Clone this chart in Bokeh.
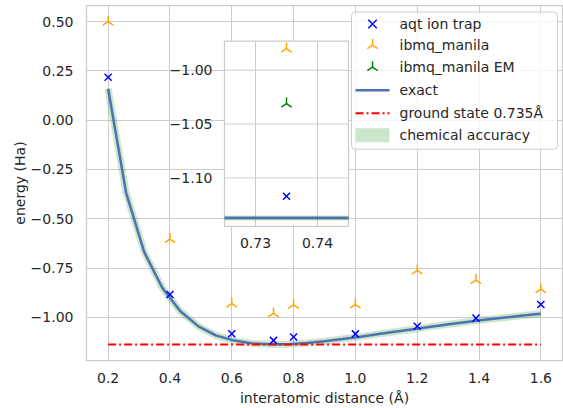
import numpy as np
from bokeh.plotting import figure
from bokeh.models import Range1d, FixedTicker, CustomJSTickFormatter
from bokeh.core.properties import value
from bokeh.embed import file_html
from bokeh.resources import INLINE

# ---------------- data ----------------
dist_hw = [0.2, 0.4, 0.6, 0.735, 0.8, 1.0, 1.2, 1.39, 1.6]
e_aqt = [0.218, -0.884, -1.083, -1.117, -1.100, -1.084, -1.045, -1.004, -0.935]
e_ibmq = [0.500, -0.603, -0.931, -0.980, -0.937, -0.935, -0.762, -0.811, -0.857]
dist_em = [0.735]
e_em = [-1.031]

dist_exact = [0.2, 0.258, 0.317, 0.375, 0.433, 0.492, 0.55, 0.608, 0.667,
              0.725, 0.783, 0.842, 0.9, 0.958, 1.017, 1.075, 1.133, 1.192,
              1.25, 1.308, 1.367, 1.425, 1.483, 1.542, 1.6]
e_exact = [0.160, -0.367, -0.670, -0.850, -0.968, -1.046, -1.093, -1.118,
           -1.133, -1.137, -1.136, -1.130, -1.121, -1.110, -1.098, -1.085,
           -1.072, -1.059, -1.046, -1.034, -1.022, -1.011, -1.001, -0.991,
           -0.982]
gs_dist = [0.2, 1.6]
gs_energy = [-1.1373, -1.1373]
chem_acc = 0.0016

inset_dist_exact = [0.725, 0.735, 0.745]
inset_e_exact = [-1.1372, -1.1373, -1.1373]

x_ticks = [0.2, 0.4, 0.6, 0.8, 1.0, 1.2, 1.4, 1.6]
y_ticks = [-1.0, -0.75, -0.5, -0.25, 0.0, 0.25, 0.5]
inset_x_ticks = [0.73, 0.74]
inset_x_labels = ["0.73", "0.74"]
inset_y_ticks = [-1.10, -1.05, -1.00]
inset_y_labels = ["\u22121.10", "\u22121.05", "\u22121.00"]

legend_labels = ["aqt ion trap", "ibmq_manila", "ibmq_manila EM", "exact",
                 "ground state 0.735Å", "chemical accuracy"]

# ---------------- styling constants ----------------
FONT = "DejaVu Sans"
TXT = "#262626"
GRID = "#cccccc"
BAND = "green"
EXACT = "#4c72b0"

p = figure(width=563, height=408, output_backend="svg", toolbar_location=None,
           x_range=Range1d(0.13, 1.67), y_range=Range1d(-1.219, 0.582),
           min_border_left=86, min_border_right=1, min_border_top=5,
           min_border_bottom=48)
p.background_fill_color = "white"
p.border_fill_color = "white"
p.outline_line_color = GRID
p.outline_line_width = 1.25

for ax in (p.xaxis[0], p.yaxis[0]):
    ax.major_tick_line_color = None
    ax.minor_tick_line_color = None
    ax.major_tick_out = 0
    ax.major_tick_in = 0
    ax.minor_tick_out = 0
    ax.minor_tick_in = 0
    ax.axis_line_color = None
    ax.major_label_text_font = FONT
    ax.major_label_text_font_size = "14px"
    ax.major_label_text_color = TXT
    ax.axis_label_text_font = FONT
    ax.axis_label_text_font_size = "14px"
    ax.axis_label_text_font_style = "normal"
    ax.axis_label_text_color = TXT

p.xaxis.ticker = FixedTicker(ticks=x_ticks)
p.yaxis.ticker = FixedTicker(ticks=y_ticks)
p.xaxis.formatter = CustomJSTickFormatter(code="return tick.toFixed(1);")
p.yaxis.formatter = CustomJSTickFormatter(
    code="return (tick < -1e-9 ? '\\u2212' : '') + Math.abs(tick).toFixed(2);")
p.xaxis.axis_label = "interatomic distance (Å)"
p.yaxis.axis_label = "energy (Ha)"
p.xaxis.major_label_standoff = 12
p.xaxis.axis_label_standoff = 4
p.yaxis.major_label_standoff = 13
p.yaxis.axis_label_standoff = 0

p.grid.grid_line_color = GRID
p.grid.grid_line_width = 1
p.xgrid.ticker = FixedTicker(ticks=x_ticks)
p.ygrid.ticker = FixedTicker(ticks=y_ticks)

# ---------------- main plot ----------------
e_lo = [e - chem_acc for e in e_exact]
e_hi = [e + chem_acc for e in e_exact]
p.line(dist_exact, e_exact, line_color=BAND, line_alpha=0.2, line_width=7)
p.varea(x=dist_exact, y1=e_lo, y2=e_hi, fill_color=BAND, fill_alpha=0.2)
p.line(dist_exact, e_exact, line_color=EXACT, line_width=2.5)
p.line(gs_dist, gs_energy, line_color="red", line_width=2, line_dash="8 3 2 3")
p.scatter(dist_hw, e_aqt, marker="x", size=10, line_color="blue", line_width=1.5)
p.scatter(dist_hw, e_ibmq, marker="y", angle=np.pi, size=12,
          line_color="orange", line_width=1.5)

# ---------------- inset ----------------
INSET_X = (0.5764, 0.9777)   # main-data position of the inset box
INSET_Y = (-0.5386, 0.4014)
IX = (0.725, 0.745)
IY = (-1.145, -0.973)

p.quad(left=[INSET_X[0]], right=[INSET_X[1]], bottom=[INSET_Y[0]],
       top=[INSET_Y[1]], fill_color="white", line_color=GRID, line_width=1.25)

sub = p.subplot(x_source=Range1d(*IX), y_source=Range1d(*IY),
                x_target=Range1d(*INSET_X), y_target=Range1d(*INSET_Y))

sub.segment(x0=inset_x_ticks, x1=inset_x_ticks, y0=[IY[0]] * 2, y1=[IY[1]] * 2,
            line_color=GRID, line_width=1)
sub.segment(x0=[IX[0]] * 3, x1=[IX[1]] * 3, y0=inset_y_ticks, y1=inset_y_ticks,
            line_color=GRID, line_width=1)

i_lo = [e - chem_acc for e in inset_e_exact]
i_hi = [e + chem_acc for e in inset_e_exact]
sub.varea(x=inset_dist_exact, y1=i_lo, y2=i_hi, fill_color=BAND, fill_alpha=0.2)
sub.line(inset_dist_exact, i_lo, line_color=BAND, line_alpha=0.2, line_width=1.5)
sub.line(inset_dist_exact, i_hi, line_color=BAND, line_alpha=0.2, line_width=1.5)
sub.line(inset_dist_exact, inset_e_exact, line_color=EXACT, line_width=2.5)
sub.scatter(dist_hw[3:4], e_aqt[3:4], marker="x", size=10, line_color="blue",
            line_width=1.5)
sub.scatter(dist_hw[3:4], e_ibmq[3:4], marker="y", angle=np.pi, size=12,
            line_color="orange", line_width=1.5)
sub.scatter(dist_em, e_em, marker="y", angle=np.pi, size=12,
            line_color="green", line_width=1.5)

sub.text(x=[IX[0]] * 3, y=inset_y_ticks, text=inset_y_labels, x_offset=-12,
         text_align="right", text_baseline="middle", text_font=value(FONT),
         text_font_size="14px", text_color=TXT)
sub.text(x=inset_x_ticks, y=[IY[0]] * 2, text=inset_x_labels, y_offset=12,
         text_align="center", text_baseline="top", text_font=value(FONT),
         text_font_size="14px", text_color=TXT)

# ---------------- legend (drawn in its own pixel-like box) ----------------
LEG_X = (0.9874, 1.6540)     # main-data position of the legend box
LEG_Y = (-0.1474, 0.5488)
LW, LH = 206, 137             # legend box in local units (≈ px)
leg = p.subplot(x_source=Range1d(0, LW), y_source=Range1d(LH, 0),
                x_target=Range1d(*LEG_X), y_target=Range1d(*LEG_Y))
leg.quad(left=[0], right=[LW], top=[0], bottom=[LH], fill_color="white",
         fill_alpha=0.8, line_color=GRID, line_width=1, border_radius=4)
row_y = [12, 33, 55, 78, 101, 123]
gx0, gx1, gxc, tx = 4, 38, 21, 48
leg.scatter([gxc], row_y[0:1], marker="x", size=12, line_color="blue",
            line_width=1.5)
leg.scatter([gxc], row_y[1:2], marker="y", angle=np.pi, size=12,
            line_color="orange", line_width=1.5)
leg.scatter([gxc], row_y[2:3], marker="y", angle=np.pi, size=12,
            line_color="green", line_width=1.5)
leg.segment(x0=[gx0], x1=[gx1], y0=row_y[3:4], y1=row_y[3:4],
            line_color=EXACT, line_width=2.5)
leg.segment(x0=[gx0], x1=[gx1], y0=row_y[4:5], y1=row_y[4:5],
            line_color="red", line_width=2, line_dash="8 3 2 3")
leg.quad(left=[gx0], right=[gx1], top=[row_y[5] - 7], bottom=[row_y[5] + 7],
         fill_color=BAND, fill_alpha=0.2, line_color=None)
leg.text(x=[tx] * 6, y=row_y, text=legend_labels, text_align="left",
         text_baseline="middle", text_font=value(FONT), text_font_size="14px",
         text_color=TXT)

open("out.html", "w").write(file_html(p, INLINE))
